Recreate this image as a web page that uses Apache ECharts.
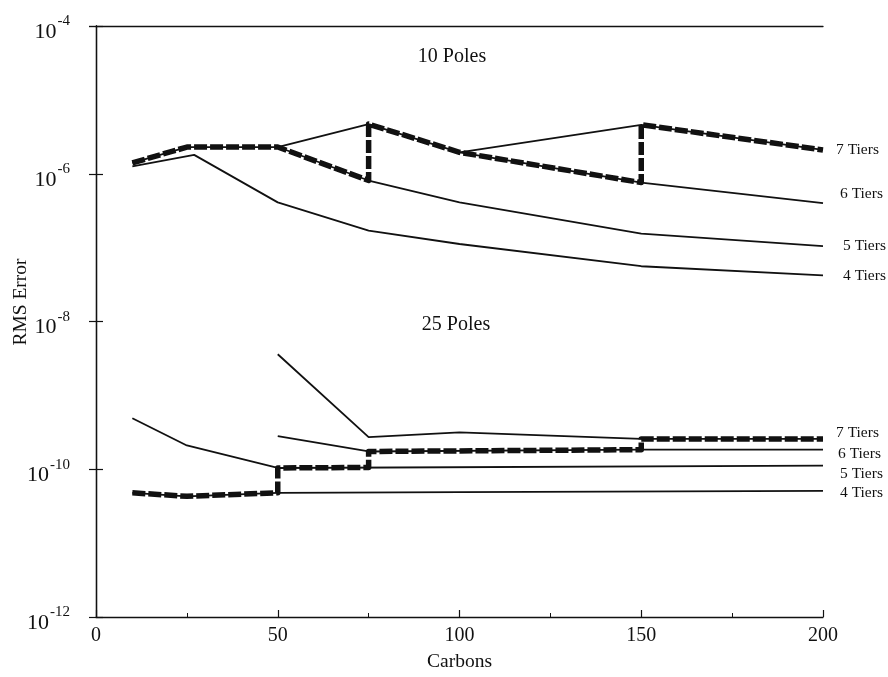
<!DOCTYPE html>
<html>
<head>
<meta charset="utf-8">
<script src="https://cdn.jsdelivr.net/npm/echarts@6/dist/echarts.min.js"></script>
<style>
html,body{margin:0;padding:0;background:#fff;}
#c{width:888px;height:677px;}
</style>
</head>
<body>
<div id="c"></div>
<script>
// Carbons (x) and RMS error (y) values
const p10_t4 = [[10,1.26e-6],[27,1.8e-6],[50,4.1e-7],[75,1.7e-7],[100,1.12e-7],[150,5.6e-8],[200,4.2e-8]];
const p10_t5 = [[10,1.4e-6],[25,2.3e-6],[50,2.3e-6],[75,8.1e-7],[100,4.1e-7],[150,1.55e-7],[200,1.05e-7]];
const p10_t6 = [[50,2.3e-6],[75,4.7e-6],[100,1.95e-6],[150,7.6e-7],[200,4.0e-7]];
const p10_t7 = [[100,1.95e-6],[150,4.6e-6],[200,2.1e-6]];
const p10_best = [[10,1.4e-6],[25,2.3e-6],[50,2.3e-6],[75,8.1e-7],[75,4.7e-6],[100,1.95e-6],[150,7.6e-7],[150,4.6e-6],[200,2.1e-6]];

const p25_t4 = [[10,4.8e-11],[25,4.3e-11],[50,4.8e-11],[100,4.9e-11],[200,5.1e-11]];
const p25_t5 = [[10,4.9e-10],[25,2.1e-10],[50,1.04e-10],[200,1.12e-10]];
const p25_t6 = [[50,2.8e-10],[75,1.74e-10],[150,1.84e-10],[200,1.84e-10]];
const p25_t7 = [[50,3.6e-9],[75,2.72e-10],[100,3.15e-10],[150,2.57e-10],[200,2.57e-10]];
const p25_best = [[10,4.8e-11],[25,4.3e-11],[50,4.8e-11],[50,1.04e-10],[75,1.06e-10],[75,1.74e-10],[150,1.84e-10],[150,2.57e-10],[200,2.57e-10]];

const xTicks = [0, 50, 100, 150, 200];
const yExponents = [-12, -10, -8, -6, -4];

const tierLabels10 = [
  {text:'7 Tiers', x:836, y:150},
  {text:'6 Tiers', x:840, y:194},
  {text:'5 Tiers', x:843, y:246},
  {text:'4 Tiers', x:843, y:276}
];
const tierLabels25 = [
  {text:'7 Tiers', x:836, y:433},
  {text:'6 Tiers', x:838, y:454},
  {text:'5 Tiers', x:840, y:474},
  {text:'4 Tiers', x:840, y:493}
];

const FONT = 'Liberation Serif';
const INK = '#111';

function thin(data){
  return {type:'line', data:data, symbol:'none', silent:true, z:2,
    lineStyle:{color:INK, width:1.8}};
}
function best(data){
  return {type:'line', data:data, symbol:'none', silent:true, z:3,
    lineStyle:{color:INK, width:5.5, type:[13,3], cap:'butt', join:'round'}};
}

const tickStyle = {show:true, inside:true, length:7, lineStyle:{color:INK, width:1.2}};
const minorStyle = {show:true, splitNumber:2, length:4, lineStyle:{color:INK, width:1}};

const chart = echarts.init(document.getElementById('c'), null, {renderer:'canvas'});
const graphics = [];
tierLabels10.concat(tierLabels25).forEach(l => {
  graphics.push({type:'text', x:l.x, y:l.y, silent:true,
    style:{text:l.text, fontFamily:FONT, fontSize:15.5, fill:INK, align:'left', verticalAlign:'middle'}});
});
graphics.push({type:'text', x:452, y:57, silent:true,
  style:{text:'10 Poles', fontFamily:FONT, fontSize:20, fill:INK, align:'center', verticalAlign:'middle'}});
graphics.push({type:'text', x:456, y:325, silent:true,
  style:{text:'25 Poles', fontFamily:FONT, fontSize:20, fill:INK, align:'center', verticalAlign:'middle'}});
graphics.push({type:'text', x:21, y:302, rotation:Math.PI/2, silent:true,
  style:{text:'RMS Error', fontFamily:FONT, fontSize:19.5, fill:INK, align:'center', verticalAlign:'middle'}});

chart.setOption({
  animation:false,
  backgroundColor:'#fff',
  grid:{left:96, right:65, top:26, bottom:58},
  graphic:graphics,
  xAxis:[{
    type:'value', min:xTicks[0], max:xTicks[xTicks.length-1], interval:50,
    name:'Carbons', nameLocation:'middle', nameGap:35,
    nameTextStyle:{fontFamily:FONT, fontSize:19.5, color:INK},
    axisLine:{show:true, lineStyle:{color:INK, width:1.3}},
    axisTick:tickStyle, minorTick:minorStyle,
    axisLabel:{fontFamily:FONT, fontSize:20, color:INK, margin:9},
    splitLine:{show:false}
  },{
    type:'value', position:'top', min:0, max:200, interval:50,
    axisLine:{show:true, lineStyle:{color:INK, width:1.3}},
    axisTick:{show:false},
    axisLabel:{show:false}, splitLine:{show:false}
  }],
  yAxis:[{
    type:'log', logBase:10, min:Math.pow(10, yExponents[0]), max:Math.pow(10, yExponents[yExponents.length-1]),
    interval:2,
    axisLine:{show:true, lineStyle:{color:INK, width:1.3}},
    axisTick:tickStyle,
    minorTick:{show:false},
    axisLabel:{fontFamily:FONT, color:INK, margin:26, padding:[12,0,0,0],
      formatter:function(v){
        const e = Math.round(Math.log10(v));
        return '{b|10}{s|' + e + '}';
      },
      rich:{
        b:{fontFamily:FONT, fontSize:22, color:INK},
        s:{fontFamily:FONT, fontSize:15, color:INK, padding:[0,0,21,1]}
      }
    },
    splitLine:{show:false}
  },{
    type:'log', logBase:10, position:'right', min:1e-12, max:1e-4, interval:2,
    axisLine:{show:true, lineStyle:{color:INK, width:1.3}},
    axisTick:tickStyle, axisLabel:{show:false}, splitLine:{show:false}
  }],
  series:[
    thin(p10_t4), thin(p10_t5), thin(p10_t6), thin(p10_t7),
    thin(p25_t4), thin(p25_t5), thin(p25_t6), thin(p25_t7),
    best(p10_best), best(p25_best)
  ]
});
</script>
</body>
</html>
